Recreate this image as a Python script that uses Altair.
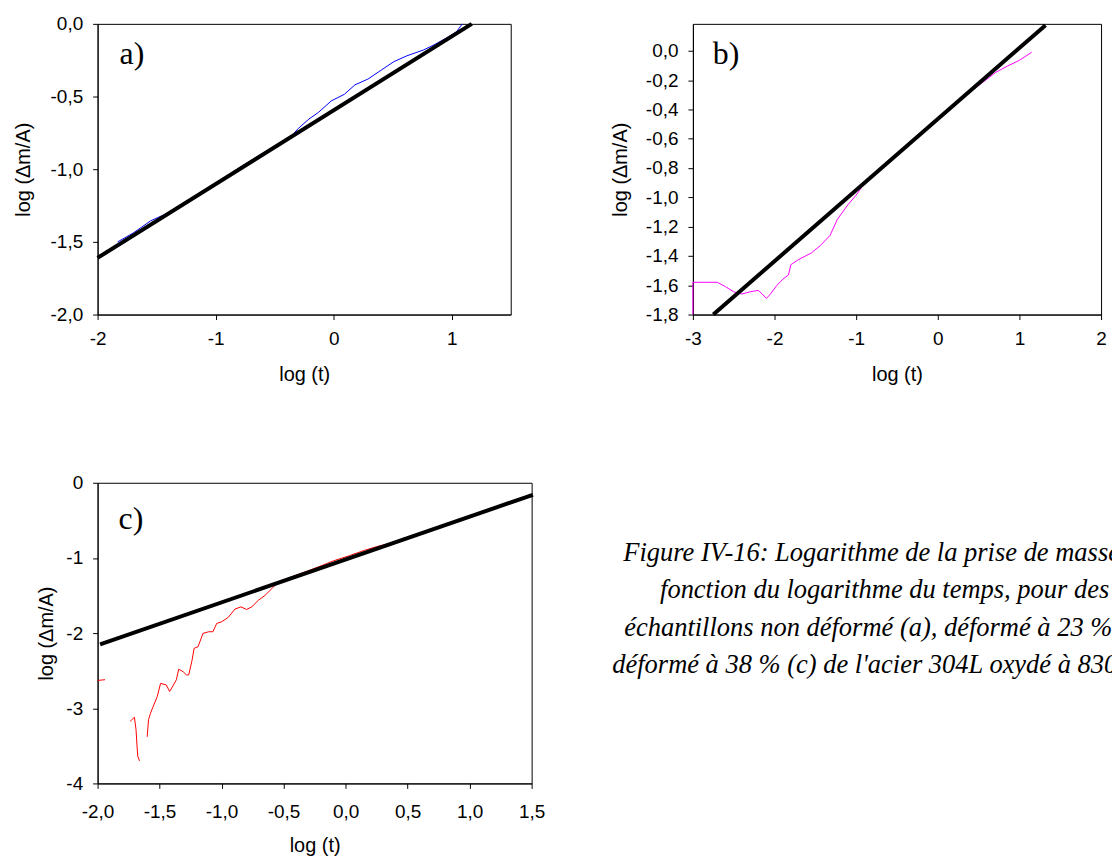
import altair as alt
import pandas as pd

# ---------------- data ----------------
# a) non deformed (blue)
a_x = [-1.83, -1.7, -1.55, -1.4, -1.3, -1.1, -0.95, -0.8, -0.65, -0.5, -0.35, -0.3,
       -0.21, -0.13, -0.02, 0.09, 0.18, 0.29, 0.4, 0.51, 0.62, 0.76, 0.85, 0.96, 1.04, 1.09]
a_y = [-1.5, -1.44, -1.355, -1.3, -1.255, -1.15, -1.075, -0.99, -0.915, -0.84, -0.765, -0.72,
       -0.655, -0.61, -0.53, -0.485, -0.42, -0.38, -0.32, -0.26, -0.22, -0.18, -0.145, -0.095, -0.055, 0.0]
a_fit_x = [-2.0, 1.17]
a_fit_y = [-1.61, 0.0]

# b) 23 % (magenta)
b_x = [-3.0, -3.0, -2.7, -2.6, -2.5, -2.4, -2.3, -2.2, -2.15, -2.1, -2.05, -1.97, -1.9, -1.83,
       -1.8, -1.72, -1.62, -1.55, -1.44, -1.32, -1.23, -1.1, -1.0, -0.9, -0.5, 0.0, 0.4, 0.71,
       0.85, 1.0, 1.15]
b_y = [-1.8, -1.58, -1.58, -1.61, -1.645, -1.66, -1.645, -1.635, -1.66, -1.69, -1.66, -1.6, -1.56,
       -1.53, -1.46, -1.43, -1.4, -1.38, -1.33, -1.26, -1.15, -1.05, -0.985, -0.905, -0.71, -0.47,
       -0.28, -0.147, -0.105, -0.065, -0.01]
b_fit_x = [-2.75, 1.32]
b_fit_y = [-1.8, 0.175]

# c) 38 % (red), three separate pieces
c0_x = [-2.0, -1.94]
c0_y = [-2.63, -2.62]
c1_x = [-1.738, -1.703, -1.69, -1.682, -1.676, -1.662]
c1_y = [-3.175, -3.12, -3.285, -3.505, -3.638, -3.70]
c2_x = [-1.6, -1.589, -1.573, -1.552, -1.519, -1.492, -1.446, -1.419, -1.392, -1.365, -1.346,
        -1.311, -1.284, -1.265, -1.238, -1.222, -1.19, -1.15, -1.104, -1.07, -1.04, -1.0, -0.946,
        -0.892, -0.844, -0.798, -0.757, -0.703, -0.649, -0.595, -0.555, -0.514, -0.4, -0.3, -0.19,
        -0.1, 0.03, 0.15, 0.25, 0.4, 0.5, 0.6, 0.7, 0.85, 0.98]
c2_y = [-3.38, -3.152, -3.065, -2.977, -2.845, -2.669, -2.69, -2.777, -2.702, -2.622, -2.481,
        -2.512, -2.556, -2.556, -2.36, -2.203, -2.181, -2.004, -1.982, -1.982, -1.872, -1.85, -1.79,
        -1.68, -1.651, -1.686, -1.651, -1.563, -1.497, -1.408, -1.342, -1.298, -1.23, -1.17, -1.10,
        -1.04, -0.97, -0.9, -0.85, -0.79, -0.74, -0.68, -0.62, -0.54, -0.48]
c_fit_x = [-1.98, 1.51]
c_fit_y = [-2.15, -0.16]

a_xticks = [-2, -1, 0, 1]
a_yticks = [-2.0, -1.5, -1.0, -0.5, 0.0]
b_xticks = [-3, -2, -1, 0, 1, 2]
b_yticks = [-1.8, -1.6, -1.4, -1.2, -1.0, -0.8, -0.6, -0.4, -0.2, 0.0]
c_xticks = [-2.0, -1.5, -1.0, -0.5, 0.0, 0.5, 1.0, 1.5]
c_yticks = [-4, -3, -2, -1, 0]

caption_lines = [
    "Figure IV-16: Logarithme de la prise de masse",
    "fonction du logarithme du temps, pour des",
    "échantillons non déformé (a), déformé à 23 %",
    "déformé à 38 % (c) de l'acier 304L oxydé à 830",
]

# ---------------- helpers ----------------
def lab(fmt):
    return ("replace(replace(replace(format(datum.value, '" + fmt + "'), '\u2212', '-'), '.', ','), '\u2013', '-')")


def panel(df, fit, color, xdom, ydom, xt, yt, xfmt, yfmt, w, h, tag, tagpos,
          ytp, xlp, xtp):
    X = alt.X("x:Q", scale=alt.Scale(domain=xdom, nice=False, zero=False),
              axis=alt.Axis(values=xt, labelExpr=lab(xfmt), title="log (t)",
                            labelPadding=xlp, titlePadding=xtp))
    Y = alt.Y("y:Q", scale=alt.Scale(domain=ydom, nice=False, zero=False),
              axis=alt.Axis(values=yt, labelExpr=lab(yfmt), title="log (\u0394m/A)",
                            titlePadding=ytp))
    data = alt.Chart(df).mark_line(color=color, strokeWidth=1).encode(
        x=X, y=Y, detail="seg:N", order="i:Q")
    fitl = alt.Chart(fit).mark_line(color="black", strokeWidth=4).encode(x=X, y=Y)
    txt = alt.Chart(pd.DataFrame({"t": [tag]})).mark_text(
        font="Liberation Serif", fontSize=32, align="left", baseline="alphabetic",
        color="black").encode(x=alt.value(tagpos[0]), y=alt.value(tagpos[1]), text="t:N")
    return alt.layer(data, fitl, txt).properties(width=w, height=h)


def frame(xs, ys, segs=None):
    if segs is None:
        segs = [0] * len(xs)
    return pd.DataFrame({"x": xs, "y": ys, "seg": segs, "i": list(range(len(xs)))})


df_a = frame(a_x, a_y)
df_b = frame(b_x, b_y)
df_c = frame(c0_x + c1_x + c2_x, c0_y + c1_y + c2_y,
             [0] * len(c0_x) + [1] * len(c1_x) + [2] * len(c2_x))

pa = panel(df_a, pd.DataFrame({"x": a_fit_x, "y": a_fit_y}), "#0000ff",
           [-2, 1.5], [-2, 0], a_xticks, a_yticks, "d", ".1f", 415, 292,
           "a)", (22, 40), 17, 10, 16)
pb = panel(df_b, pd.DataFrame({"x": b_fit_x, "y": b_fit_y}), "#ff00ff",
           [-3, 2], [-1.8, 0.184], b_xticks, b_yticks, "d", ".1f", 410, 292,
           "b)", (20, 40), 15, 10, 16)
pc = panel(df_c, pd.DataFrame({"x": c_fit_x, "y": c_fit_y}), "#ff0000",
           [-2, 1.5], [-4, 0], c_xticks, c_yticks, ".1f", "d", 436, 302,
           "c)", (21, 46), 9, 14, 14)

cap_pos = [(-70, 79), (-33, 116), (-69, 154), (-81, 191)]
cap_layers = []
for line, (px, py) in zip(caption_lines, cap_pos):
    cap_layers.append(
        alt.Chart(pd.DataFrame({"t": [line]})).mark_text(
            font="Liberation Serif", fontStyle="italic", fontSize=26.6, align="left",
            baseline="alphabetic", color="black").encode(
            x=alt.value(px), y=alt.value(py), text="t:N"))
cap = alt.layer(*cap_layers).properties(width=440, height=302,
                                        view=alt.ViewBackground(strokeOpacity=0))

chart = alt.concat(pa, pb, pc, cap, columns=2, bounds="flush", align="each",
                   spacing={"row": 169, "column": 162}).properties(
    padding={"left": 4, "top": 4, "right": -19, "bottom": 0}
).configure_view(stroke="black", strokeWidth=1).configure_axis(
    domainColor="black", tickColor="black", tickSize=5, grid=False,
    labelFont="Liberation Sans", labelFontSize=19, labelColor="black", labelPadding=10,
    titleFont="Liberation Sans", titleFontSize=20, titleFontWeight="normal", titleColor="black",
    labelOverlap=False, labelFlush=False
)

chart.save("out.html", embed_options={"renderer": "svg", "actions": False})
